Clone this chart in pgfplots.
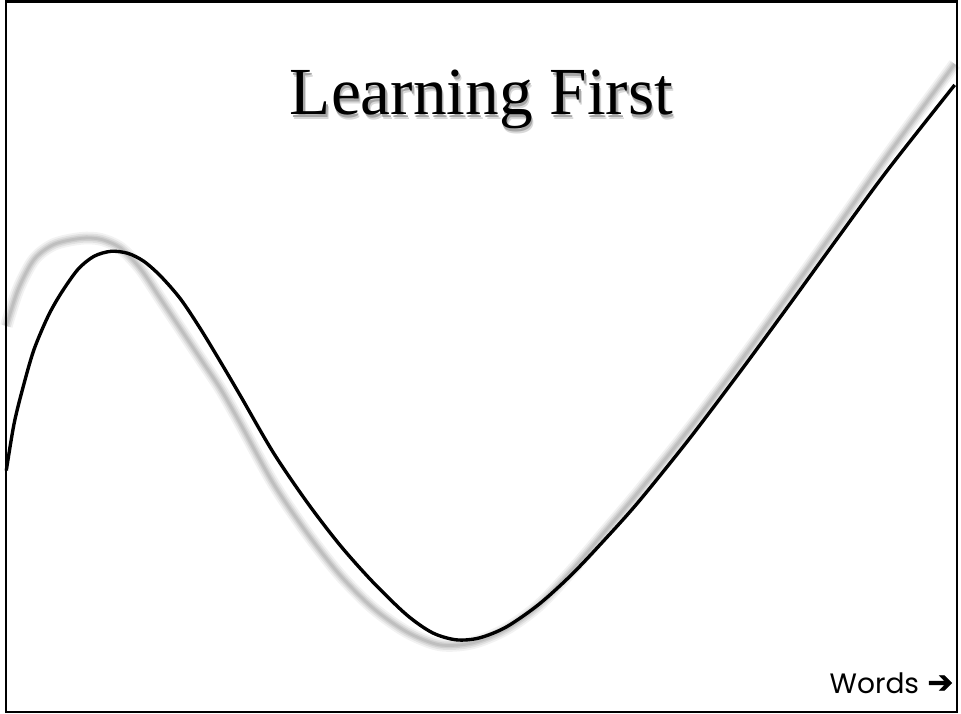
\documentclass[border=0pt]{standalone}
\usepackage{fontspec}
\setmainfont{Liberation Serif}
\newfontfamily\wordsfont{Poppins}
\newfontfamily\symfont[FakeBold=2]{DejaVu Sans}
\usepackage{pgfplots}
\usepackage{pgfplotstable}
\pgfplotsset{compat=1.18}

% curve in pixel units (x right, y up from the bottom)
\pgfplotstableread{
x y
5 246
13 294
23 334
33 368
47 401
60 424
77 448
93 461
110 466
127 464
143 456
160 441
180 418
200 388
220 355
240 321
273 264
307 214
340 171
373 134
407 101
433 83
457 76
480 78
507 89
540 112
573 142
607 178
640 215
690 277
740 343
790 411
840 480
890 548
957 633
}\curve

% grey shadow line behind it
\pgfplotstableread{
x y
5 391
17 428
33 458
53 473
80 479
100 478
120 469
140 448
160 418
180 388
200 358
220 328
240 293
273 233
307 183
340 141
373 108
407 84
440 71
473 73
507 87
540 111
573 146
607 186
640 225
690 287
740 353
790 422
840 492
890 563
957 654
}\shadow

\newcommand{\titletext}{Learning First}

\begin{document}
\begin{tikzpicture}
\begin{axis}[
    scale only axis,
    width=12cm, height=9.0036cm,
    xmin=0, xmax=961, ymin=0, ymax=721,
    hide axis, clip=false,
]
% blurred grey shadow, stacked strokes
\addplot[smooth, black, opacity=0.05, line width=4.5pt] table[x=x, y=y] {\shadow};
\addplot[smooth, black, opacity=0.07, line width=3.2pt] table[x=x, y=y] {\shadow};
\addplot[smooth, black, opacity=0.08, line width=2pt] table[x=x, y=y] {\shadow};
\addplot[smooth, black, opacity=0.08, line width=1pt] table[x=x, y=y] {\shadow};
% main curve
\addplot[smooth, black, line width=1.2pt] table[x=x, y=y] {\curve};

\draw[black, line width=0.9pt] (axis cs:4.5,3.5) rectangle (axis cs:959.5,717);

% title with a soft drop shadow, all in one node
\node[anchor=base, font=\fontsize{24}{28}\selectfont] at (axis cs:482,603) {%
  \makebox[0pt][l]{\hspace{0.9pt}\raisebox{-1.8pt}{\textcolor{black!15}{\titletext}}}%
  \makebox[0pt][l]{\hspace{0.5pt}\raisebox{-1.1pt}{\textcolor{black!35}{\titletext}}}%
  \titletext};

\node[anchor=base west, inner sep=0pt, font=\wordsfont\fontsize{10}{12}\selectfont]
    at (axis cs:831,22) {Words};
\node[anchor=base west, inner sep=0pt, font=\symfont\fontsize{11}{12}\selectfont]
    at (axis cs:929,23) {➔};
\end{axis}
\end{tikzpicture}
\end{document}
